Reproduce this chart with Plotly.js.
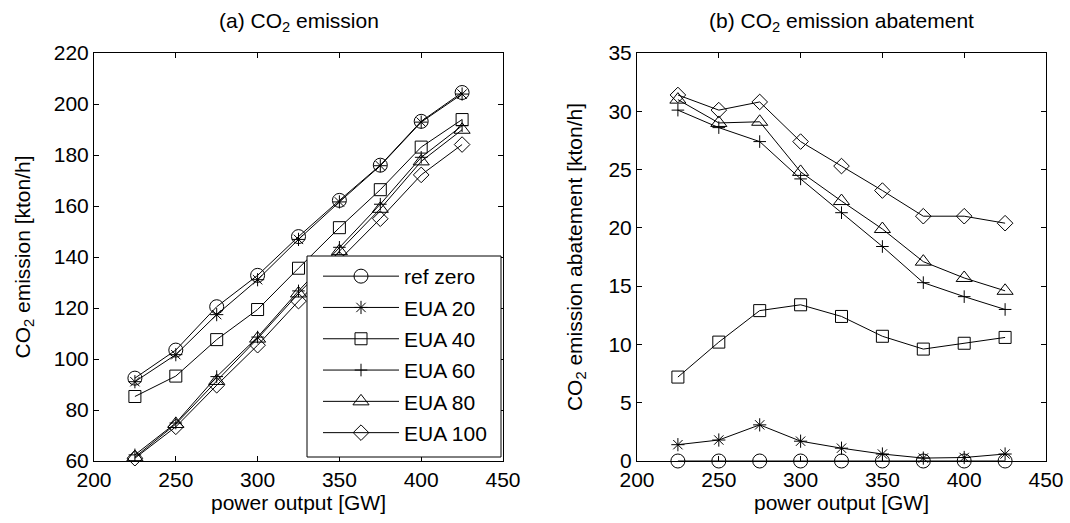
<!DOCTYPE html>
<html>
<head>
<meta charset="utf-8">
<script src="https://cdn.plot.ly/plotly-3.0.1.min.js"></script>
<style>
  html, body { margin: 0; padding: 0; background: #fff; }
  #chart { width: 1070px; height: 523px; }
</style>
</head>
<body>
<div id="chart"></div>
<script>
// Power output levels [GW]
const powerOutput = [225, 250, 275, 300, 325, 350, 375, 400, 425];

// Series names
const seriesNames = ['ref zero', 'EUA 20', 'EUA 40', 'EUA 60', 'EUA 80', 'EUA 100'];

// (a) CO2 emission [kton/h]
const emisRefZero = [92.5, 103.5, 120.5, 132.8, 148.0, 162.2, 176.0, 193.2, 204.5];
const emisEUA20   = [91.1, 101.7, 117.4, 131.1, 146.9, 161.6, 175.8, 192.9, 203.9];
const emisEUA40   = [85.3, 93.3, 107.6, 119.4, 135.6, 151.5, 166.4, 183.1, 193.9];
const emisEUA60   = [62.4, 74.9, 93.1, 108.6, 126.7, 143.8, 160.7, 179.1, 191.5];
const emisEUA80   = [61.5, 74.5, 91.4, 108.0, 125.7, 142.3, 158.9, 177.5, 189.9];
const emisEUA100  = [61.1, 73.4, 89.7, 105.4, 122.7, 139.0, 155.0, 172.2, 184.1];

// (b) CO2 emission abatement [kton/h]
const abatRefZero = [0, 0, 0, 0, 0, 0, 0, 0, 0];
const abatEUA20   = [1.4, 1.8, 3.1, 1.7, 1.1, 0.6, 0.25, 0.3, 0.6];
const abatEUA40   = [7.2, 10.2, 12.9, 13.4, 12.4, 10.7, 9.6, 10.1, 10.6];
const abatEUA60   = [30.1, 28.6, 27.4, 24.2, 21.3, 18.4, 15.3, 14.1, 13.0];
const abatEUA80   = [31.0, 29.0, 29.1, 24.8, 22.3, 19.9, 17.1, 15.7, 14.6];
const abatEUA100  = [31.4, 30.1, 30.8, 27.4, 25.3, 23.2, 21.0, 21.0, 20.4];

const emisSeries = [emisRefZero, emisEUA20, emisEUA40, emisEUA60, emisEUA80, emisEUA100];
const abatSeries = [abatRefZero, abatEUA20, abatEUA40, abatEUA60, abatEUA80, abatEUA100];

// Marker look for each series
const markerStyles = [
  { symbol: 'circle-open',      size: 14 },
  { symbol: 'asterisk-open',    size: 11 },
  { symbol: 'square-open',      size: 12 },
  { symbol: 'cross-thin-open',  size: 9 },
  { symbol: 'triangle-up-open', size: 14 },
  { symbol: 'diamond-open',     size: 12 }
];

const FONT = 'Liberation Sans, Arial, Helvetica, sans-serif';
const FS = 21;
const W = 1070, H = 523;

// pixel -> paper helpers for layout placement
const px = v => v / W;
const py = v => (H - v) / H;

function makeTrace(y, i, xa, ya, showLegend) {
  return {
    type: 'scatter',
    mode: 'lines+markers',
    x: powerOutput,
    y: y,
    xaxis: xa,
    yaxis: ya,
    name: seriesNames[i],
    legendgroup: 'g' + i,
    showlegend: showLegend,
    line: { color: '#000', width: 1 },
    marker: {
      symbol: markerStyles[i].symbol,
      size: markerStyles[i].size,
      color: '#000',
      line: { color: '#000', width: 1 }
    },
    cliponaxis: false,
    hoverinfo: 'x+y+name'
  };
}

const traces = [];
emisSeries.forEach((s, i) => traces.push(makeTrace(s, i, 'x', 'y', true)));
abatSeries.forEach((s, i) => traces.push(makeTrace(s, i, 'x2', 'y2', false)));

const axisCommon = {
  showline: true,
  linecolor: '#000',
  linewidth: 1,
  mirror: 'allticks',
  ticks: 'inside',
  ticklen: 5,
  tickwidth: 1,
  tickcolor: '#000',
  showgrid: false,
  zeroline: false,
  tickfont: { family: FONT, size: FS, color: '#000' }
};

const yDomain = [py(461), py(53)];

const layout = {
  width: W,
  height: H,
  paper_bgcolor: '#fff',
  plot_bgcolor: '#fff',
  margin: { l: 0, r: 0, t: 0, b: 0 },
  font: { family: FONT, size: FS, color: '#000' },
  showlegend: true,
  legend: {
    x: px(318),
    xanchor: 'left',
    y: py(256),
    yanchor: 'top',
    bgcolor: 'rgba(0,0,0,0)',
    borderwidth: 0,
    itemwidth: 76,
    traceorder: 'grouped',
    tracegroupgap: 1,
    font: { family: FONT, size: FS, color: '#000' }
  },
  xaxis: Object.assign({}, axisCommon, {
    domain: [px(94), px(503)],
    range: [200, 450],
    tickvals: [200, 250, 300, 350, 400, 450],
    anchor: 'y',
    title: { text: 'power output [GW]', font: { family: FONT, size: FS }, standoff: 3 }
  }),
  yaxis: Object.assign({}, axisCommon, {
    domain: yDomain,
    range: [60, 220],
    tickvals: [60, 80, 100, 120, 140, 160, 180, 200, 220],
    anchor: 'x',
    title: { text: 'CO<sub>2</sub> emission [kton/h]', font: { family: FONT, size: FS }, standoff: 17 }
  }),
  xaxis2: Object.assign({}, axisCommon, {
    domain: [px(637), px(1046)],
    range: [200, 450],
    tickvals: [200, 250, 300, 350, 400, 450],
    anchor: 'y2',
    title: { text: 'power output [GW]', font: { family: FONT, size: FS }, standoff: 3 }
  }),
  yaxis2: Object.assign({}, axisCommon, {
    domain: yDomain,
    range: [0, 35],
    tickvals: [0, 5, 10, 15, 20, 25, 30, 35],
    anchor: 'x2',
    title: { text: 'CO<sub>2</sub> emission abatement [kton/h]', font: { family: FONT, size: FS }, standoff: 20 }
  }),
  // legend frame: white box with a black border over the traces
  shapes: [
    {
      type: 'rect',
      xref: 'paper', yref: 'paper',
      x0: px(307), x1: px(501),
      y0: py(457), y1: py(256),
      fillcolor: '#fff',
      line: { color: '#000', width: 1 },
      layer: 'above'
    }
  ],
  annotations: [
    {
      text: '(a) CO<sub>2</sub> emission',
      xref: 'paper', yref: 'paper',
      x: px((94 + 503) / 2), y: py(22),
      xanchor: 'center', yanchor: 'middle',
      showarrow: false,
      font: { family: FONT, size: FS, color: '#000' }
    },
    {
      text: '(b) CO<sub>2</sub> emission abatement',
      xref: 'paper', yref: 'paper',
      x: px((637 + 1046) / 2), y: py(22),
      xanchor: 'center', yanchor: 'middle',
      showarrow: false,
      font: { family: FONT, size: FS, color: '#000' }
    }
  ]
};

Plotly.newPlot('chart', traces, layout, { staticPlot: true, displayModeBar: false });
</script>
</body>
</html>
